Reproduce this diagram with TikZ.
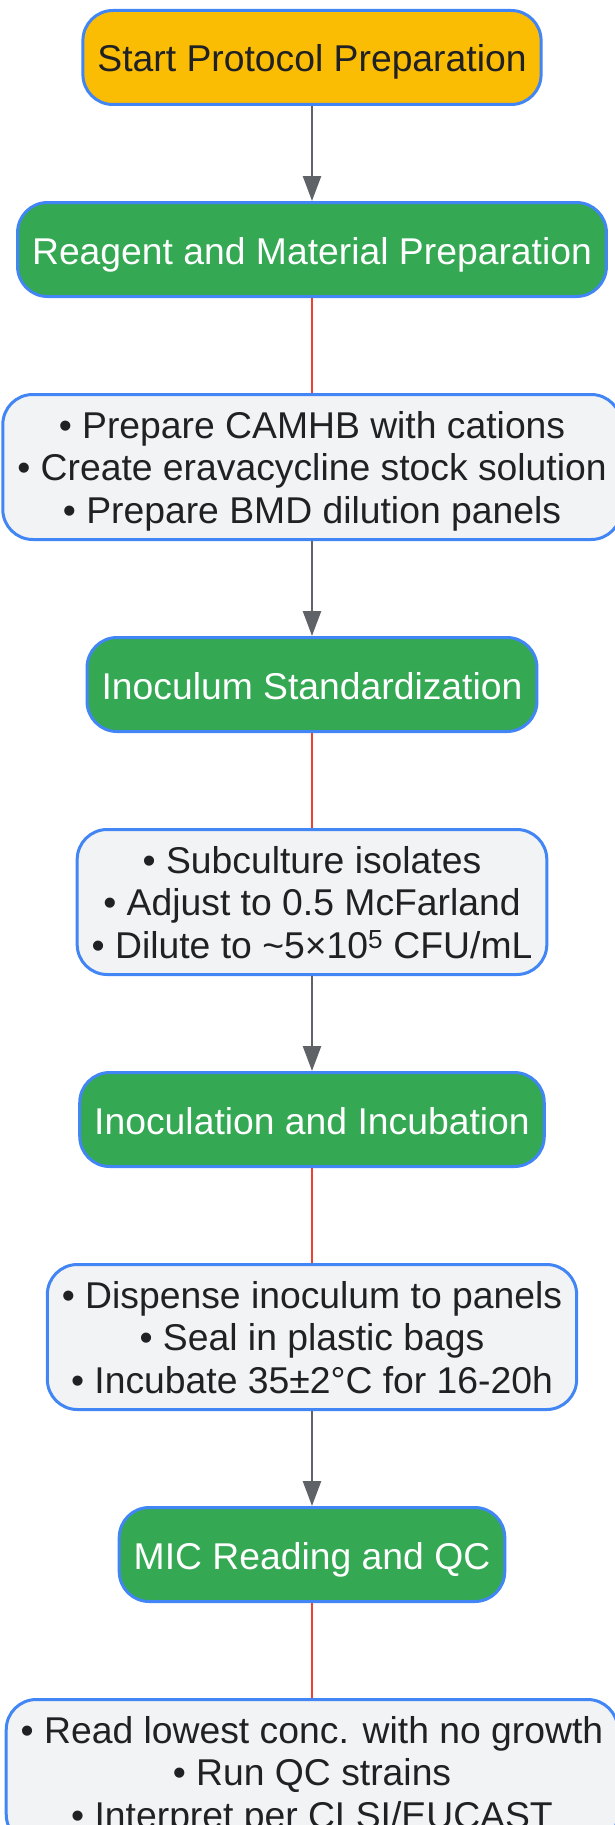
\documentclass[tikz,border=0pt]{standalone}
\usepackage{fontspec}
\setmainfont{Liberation Sans}
\usepackage{tikz}
\usetikzlibrary{arrows.meta}
\usetikzlibrary{positioning}
\definecolor{gblue}{HTML}{4285F4}
\definecolor{ggreen}{HTML}{34A853}
\definecolor{gyellow}{HTML}{FBBC04}
\definecolor{ggray}{HTML}{F1F3F4}
\definecolor{gdark}{HTML}{202124}
\definecolor{garrow}{HTML}{5F6368}
\definecolor{gred}{HTML}{EA4335}
\tikzset{
    flowbox/.style={
           rectangle,
           rounded corners=30pt,
           draw=gblue, line width=3pt,
           inner xsep=14.5pt,
           font=\fontsize{37.3}{42.5}\selectfont,
           align=center,
           },
    phase/.style={
           flowbox,
           fill=ggreen,
           text=white,
           minimum height=94pt,
           text height=29pt,
           text depth=0pt,
           },
    startbox/.style={
           phase,
           fill=gyellow,
           text=gdark,
           },
    detail/.style={
           flowbox,
           fill=ggray,
           text=gdark,
           minimum height=145pt,
           text depth=-2pt,
           },
    flow/.style={->, draw=garrow, line width=2.5pt},
    link/.style={draw=gred, line width=2pt},
}

\begin{document}
\begin{tikzpicture}[>={Triangle[length=25pt,width=18pt]}, node distance=95pt]

\useasboundingbox (0,0) rectangle (615pt,-1825pt);

 \node[startbox] (Start) at (312pt,-57.5pt)
 {Start Protocol Preparation};

 \node[phase, below=of Start] (Reagent)
 {Reagent and Material Preparation};

 \node[detail,          % bullet box (defined above)
  below=of Reagent] (ReagentSteps)
 {\textbullet{} Prepare CAMHB with cations\\
  \textbullet{} Create eravacycline stock solution\\
  \textbullet{} Prepare BMD dilution panels};

 \node[phase, below=of ReagentSteps] (Inoculum)
 {Inoculum Standardization};

 \node[detail,          % bullet box (defined above)
  below=of Inoculum] (InoculumSteps)
 {\textbullet{} Subculture isolates\\
  \textbullet{} Adjust to 0.5 McFarland\\
  \textbullet{} Dilute to \textasciitilde5×10\textsuperscript{5} CFU/mL};

 \node[phase, below=of InoculumSteps] (Incubation)
 {Inoculation and Incubation};

 \node[detail,          % bullet box (defined above)
  below=of Incubation] (IncubationSteps)
 {\textbullet{} Dispense inoculum to panels\\
  \textbullet{} Seal in plastic bags\\
  \textbullet{} Incubate 35±2°C for 16-20h};

 \node[phase, below=of IncubationSteps] (Reading)
 {MIC Reading and QC};

 \node[detail,          % bullet box (defined above)
  below=of Reading] (ReadingSteps)
 {\textbullet{} Read lowest conc. with no growth\\
  \textbullet{} Run QC strains\\
  \textbullet{} Interpret per CLSI/EUCAST};

 % connectors between the phases and their steps
 \path[flow] (Start) -- (Reagent);
 \path[link] (Reagent) -- (ReagentSteps);
 \path[flow] (ReagentSteps) -- (Inoculum);
 \path[link] (Inoculum) -- (InoculumSteps);
 \path[flow] (InoculumSteps) -- (Incubation);
 \path[link] (Incubation) -- (IncubationSteps);
 \path[flow] (IncubationSteps) -- (Reading);
 \path[link] (Reading) -- (ReadingSteps);

\end{tikzpicture}
\end{document}
